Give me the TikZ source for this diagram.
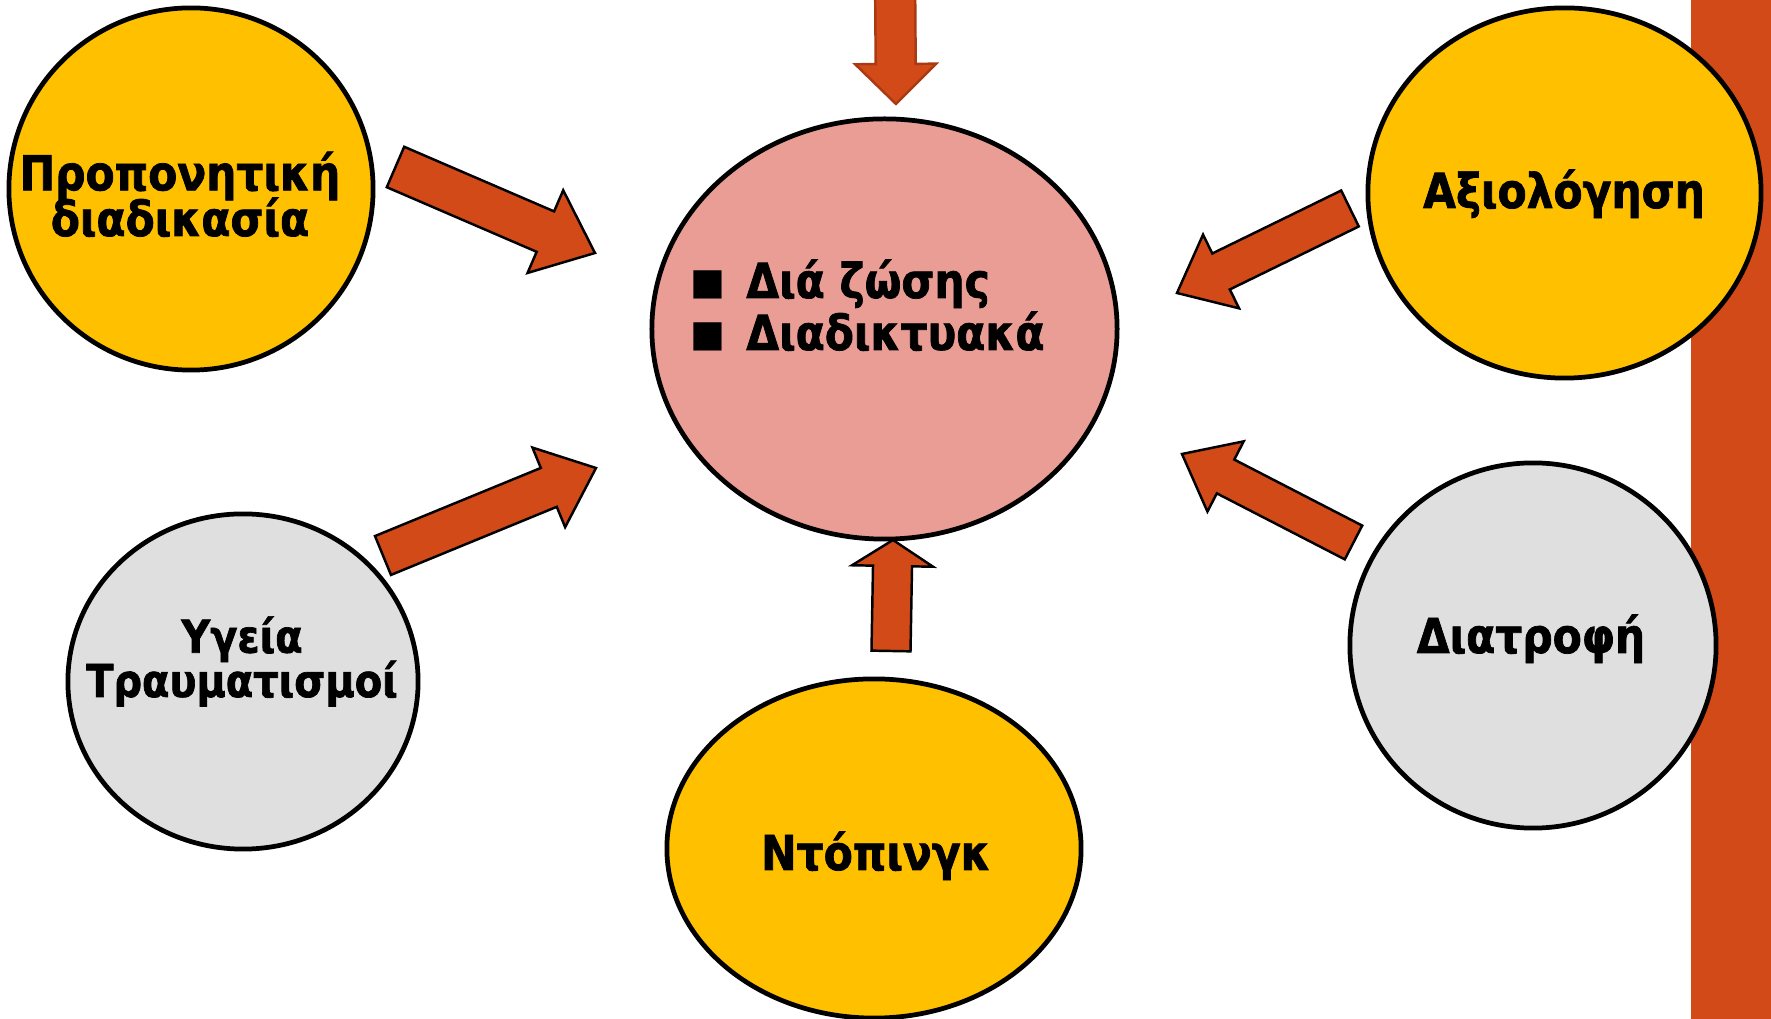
\documentclass[tikz,border=0pt]{standalone}
\usepackage{fontspec}
\setmainfont{DejaVu Sans}[FakeStretch=0.88,BoldFeatures={FakeBold=1.5}]
\newfontfamily\symfont{DejaVu Sans}
\usetikzlibrary{shapes.geometric,calc}

\definecolor{rust}{HTML}{D24A18}
\definecolor{rustdark}{HTML}{A93A12}
\definecolor{gold}{HTML}{FFC000}
\definecolor{pale}{HTML}{DFDFDF}
\definecolor{salmon}{HTML}{E99D94}

\newcommand{\sqbullet}{\raisebox{1.1pt}{\symfont\fontsize{10.5}{10}\selectfont ■}\hspace{5.9pt}}

\begin{document}
\setlength{\lineskiplimit}{-20pt}
\begin{tikzpicture}[x=0.01cm,y=-0.01cm,
  ball/.style={ellipse,draw=black,line width=1.35pt,inner sep=0pt},
  lbl/.style={inner sep=0pt,align=center,font=\bfseries\fontsize{13.7}{13}\selectfont},
  fatarrow/.style={fill=rust,line width=0.7pt,line join=miter}]
 \useasboundingbox (0,0) rectangle (1771,1019);
 \fill[rust] (1691,0) rectangle (1771,1019);
 % the five balls and the middle one
 \node[ball,fill=salmon,minimum width=4.65cm,minimum height=4.2cm] (cen) at (884.5,329) {};
 \node[ball,fill=gold,minimum width=3.64cm,minimum height=3.62cm] (pro) at (191,189) {};
 \node[ball,fill=gold,minimum width=3.93cm,minimum height=3.7cm] (axi) at (1564.5,193) {};
 \node[ball,fill=pale,minimum width=3.5cm,minimum height=3.35cm] (ygi) at (243,681.5) {};
 \node[ball,fill=gold,minimum width=4.14cm,minimum height=3.39cm] (ntp) at (874,848.5) {};
 \node[ball,fill=pale,minimum width=3.66cm,minimum height=3.65cm] (dia) at (1533,645.5) {};
 % texts
 \node[lbl,anchor=base west] (live) at (690,298) {\sqbullet Διά ζώσης};
 \node[lbl,anchor=base west] (online) at (690,350) {\sqbullet Διαδικτυακά};
 \node[lbl,anchor=base] (prot) at (180,236) {Προπονητική\\διαδικασία};
 \node[lbl,anchor=base] (axit) at (1564,208) {Αξιολόγηση};
 \node[lbl,anchor=base,font=\bfseries\fontsize{12.9}{12.6}\selectfont] (ygit) at (242,697) {Υγεία\\Τραυματισμοί};
 \node[lbl,anchor=base] (ntpt) at (876,870) {Ντόπινγκ};
 \node[lbl,anchor=base] (diat) at (1531,653) {Διατροφή};
 % arrow ends
 \coordinate (a0t) at (895,-30);   \coordinate (a0p) at (896,104);
 \coordinate (a1t) at (395.5,167); \coordinate (a1p) at (595,253);
 \coordinate (a2t) at (383,555.5); \coordinate (a2p) at (596,468);
 \coordinate (a3t) at (1350,208.5);\coordinate (a3p) at (1177,293);
 \coordinate (a4t) at (1353.5,542.5);\coordinate (a4p) at (1182,454);
 \coordinate (a5t) at (891,651);   \coordinate (a5p) at (893,540);
 \foreach \c/\t/\p/\s/\w/\l in {rustdark/a0t/a0p/2.0mm/4.05mm/4.0mm,
   black/a1t/a1p/2.2mm/4.5mm/5.4mm, black/a2t/a2p/2.1mm/4.3mm/5.1mm,
   black/a3t/a3p/2.0mm/4.1mm/4.9mm, black/a4t/a4p/1.9mm/3.95mm/4.9mm,
   black/a5t/a5p/1.95mm/4.05mm/2.6mm}{
   \coordinate (hb) at ($(\p)!\l!(\t)$);
   \draw[fatarrow,draw=\c] ($(\t)!\s!90:(\p)$) -- ($(hb)!\s!90:(\p)$) -- ($(hb)!\w!90:(\p)$)
     -- (\p) -- ($(hb)!\w!-90:(\p)$) -- ($(hb)!\s!-90:(\p)$) -- ($(\t)!\s!-90:(\p)$) -- cycle;
 }
\end{tikzpicture}
\end{document}
